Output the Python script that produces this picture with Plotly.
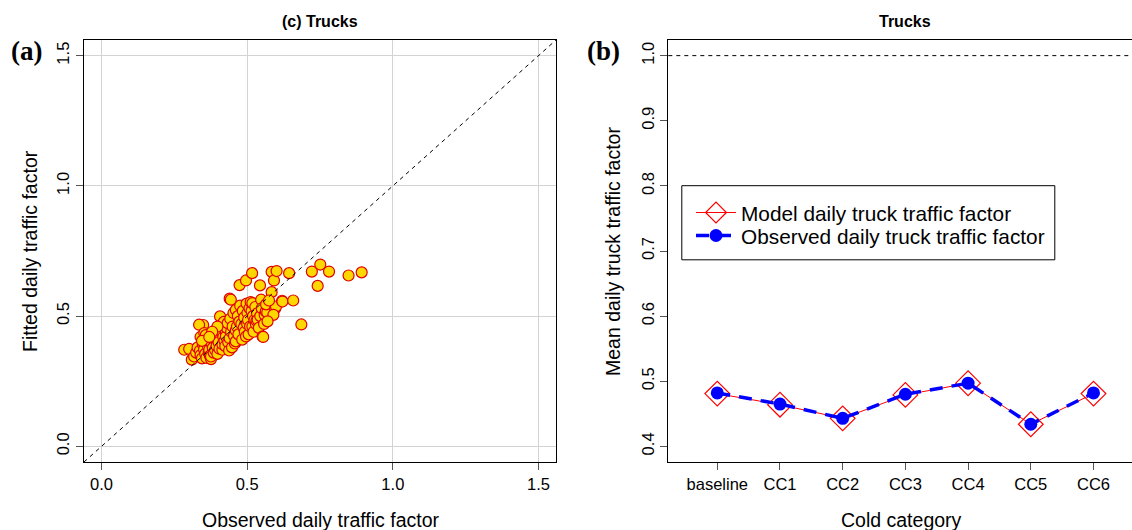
import plotly.graph_objects as go

# ---------------- data ----------------
observed_factor = [
    0.284, 0.301, 0.310, 0.318, 0.325, 0.330, 0.338, 0.340, 0.345, 0.348,
    0.352, 0.356, 0.360, 0.362, 0.365, 0.368, 0.370, 0.372, 0.376, 0.376,
    0.378, 0.380, 0.382, 0.385, 0.340, 0.349, 0.335, 0.353, 0.358, 0.345,
    0.390, 0.393, 0.393, 0.395, 0.398, 0.400, 0.402, 0.405, 0.407, 0.410,
    0.412, 0.415, 0.415, 0.418, 0.420, 0.422, 0.425, 0.427, 0.427, 0.430,
    0.433, 0.435, 0.438, 0.440, 0.442, 0.445, 0.448, 0.450, 0.453, 0.455,
    0.458, 0.461, 0.461, 0.465, 0.440, 0.444, 0.461, 0.398, 0.380, 0.370,
    0.468, 0.470, 0.473, 0.474, 0.476, 0.480, 0.483, 0.485, 0.488, 0.490,
    0.492, 0.496, 0.496, 0.498, 0.500, 0.501, 0.503, 0.505, 0.508, 0.510,
    0.512, 0.515, 0.517, 0.518, 0.518, 0.520, 0.522, 0.525, 0.528, 0.530,
    0.532, 0.534, 0.536, 0.540, 0.544, 0.545, 0.548, 0.550, 0.553, 0.555,
    0.558, 0.560, 0.564, 0.569, 0.565,
    0.584, 0.584, 0.592, 0.596, 0.599, 0.601, 0.620, 0.621, 0.644, 0.658,
    0.686, 0.722, 0.742, 0.751, 0.781, 0.848, 0.893, 0.575, 0.590, 0.570,
]
fitted_factor = [
    0.371, 0.374, 0.333, 0.345, 0.360, 0.380, 0.368, 0.350, 0.338, 0.392,
    0.372, 0.355, 0.340, 0.405, 0.385, 0.362, 0.371, 0.348, 0.335, 0.345,
    0.395, 0.415, 0.378, 0.360, 0.420, 0.466, 0.467, 0.435, 0.427, 0.405,
    0.370, 0.448, 0.409, 0.385, 0.355, 0.430, 0.400, 0.375, 0.499, 0.460,
    0.440, 0.371, 0.392, 0.420, 0.478, 0.405, 0.385, 0.435, 0.422, 0.455,
    0.473, 0.400, 0.368, 0.415, 0.490, 0.440, 0.380, 0.460, 0.512, 0.425,
    0.395, 0.403, 0.445, 0.460, 0.567, 0.563, 0.524, 0.460, 0.440, 0.420,
    0.500, 0.430, 0.479, 0.619, 0.540, 0.470, 0.410, 0.520, 0.455, 0.495,
    0.440, 0.422, 0.637, 0.548, 0.470, 0.512, 0.485, 0.430, 0.530, 0.460,
    0.554, 0.520, 0.665, 0.550, 0.460, 0.500, 0.440, 0.485, 0.535, 0.470,
    0.482, 0.510, 0.486, 0.455, 0.618, 0.500, 0.563, 0.530, 0.422, 0.420,
    0.470, 0.505, 0.518, 0.514, 0.545,
    0.592, 0.670, 0.637, 0.529, 0.537, 0.673, 0.559, 0.556, 0.665, 0.560,
    0.468, 0.671, 0.616, 0.698, 0.671, 0.656, 0.668, 0.560, 0.505, 0.480,
]

cold_categories = ["baseline", "CC1", "CC2", "CC3", "CC4", "CC5", "CC6"]
model_factor = [0.481, 0.464, 0.443, 0.479, 0.497, 0.434, 0.481]
observed_mean_factor = [0.482, 0.465, 0.443, 0.480, 0.497, 0.434, 0.482]

left_ticks = [0.0, 0.5, 1.0, 1.5]
right_yticks = [0.4, 0.5, 0.6, 0.7, 0.8, 0.9, 1.0]

# ---------------- layout helpers ----------------
W, H = 1132, 530
MT, MB = 40, 68
PH = H - MT - MB


def px(x):
    return x / W


def py(y):
    return (H - MB - y) / PH


SANS = "Liberation Sans, Arial, sans-serif"
SERIF = "Liberation Serif, Times New Roman, serif"
TICKFONT = dict(family=SANS, size=16.5, color="black")

fig = go.Figure()

# left scatter
fig.add_trace(go.Scatter(
    x=observed_factor, y=fitted_factor, mode="markers",
    marker=dict(size=11, color="#FFD700", line=dict(color="#E00000", width=1.2)),
    xaxis="x", yaxis="y", showlegend=False, hoverinfo="skip",
))

# right lines
fig.add_trace(go.Scatter(
    x=cold_categories, y=model_factor, mode="lines+markers",
    name="Model daily truck traffic factor",
    line=dict(color="#FF0000", width=1),
    marker=dict(symbol="diamond-open", size=19, color="#FF0000", line=dict(width=1.2, color="#FF0000")),
    xaxis="x2", yaxis="y2", legend="legend",
))
fig.add_trace(go.Scatter(
    x=cold_categories, y=observed_mean_factor, mode="lines+markers",
    name="Observed daily truck traffic factor",
    line=dict(color="#0000FF", width=3.5, dash="13px,9px"),
    marker=dict(symbol="circle", size=13, color="#0000FF"),
    xaxis="x2", yaxis="y2", legend="legend2",
))

axis_common = dict(
    ticks="outside", ticklen=7, tickcolor="#555555", tickwidth=1,
    showline=True, linecolor="black", linewidth=1,
    zeroline=False, tickfont=TICKFONT,
)

legend_common = dict(xanchor="left", yanchor="middle", bgcolor="rgba(0,0,0,0)",
                     borderwidth=0, itemwidth=40,
                     font=dict(family=SANS, size=20.8, color="black"))

fig.update_layout(
    width=W, height=H,
    margin=dict(l=0, r=0, t=MT, b=MB),
    paper_bgcolor="white", plot_bgcolor="white",
    xaxis=dict(domain=[px(84), px(556)], range=[-0.06, 1.56],
               tickvals=left_ticks, tickformat=".1f",
               showgrid=True, gridcolor="#D3D3D3", gridwidth=1,
               mirror=True, anchor="y", **axis_common),
    yaxis=dict(domain=[0, 1], range=[-0.06, 1.56],
               tickvals=left_ticks, tickformat=".1f", tickangle=-90,
               showgrid=True, gridcolor="#D3D3D3", gridwidth=1,
               mirror=True, anchor="x", **axis_common),
    xaxis2=dict(domain=[px(668.3), 1], type="category",
                categoryorder="array", categoryarray=cold_categories,
                range=[-0.781, 6.614], showgrid=False,
                mirror=True, anchor="y2", **axis_common),
    yaxis2=dict(domain=[0, 1], range=[0.376, 1.024],
                tickvals=right_yticks, tickformat=".1f", tickangle=-90,
                showgrid=False, mirror=False, anchor="x2", **axis_common),
    legend=dict(x=px(691), y=py(213), **legend_common),
    legend2=dict(x=px(691), y=py(236), **legend_common),
)

# reference lines
fig.add_shape(type="line", xref="x", yref="y", x0=-0.06, y0=-0.06, x1=1.56, y1=1.56,
              line=dict(color="black", width=1, dash="4px,4px"))
fig.add_shape(type="line", xref="x2 domain", yref="y2", x0=0, x1=1, y0=1.0, y1=1.0,
              line=dict(color="black", width=1, dash="4px,4px"))
# legend box
fig.add_shape(type="rect", xref="paper", yref="paper",
              x0=px(681.8), x1=px(1054.8), y0=py(259.8), y1=py(185.7),
              line=dict(color="black", width=1), fillcolor="rgba(0,0,0,0)")

ann = []
ann.append(dict(text="<b>(c) Trucks</b>", x=px(320), y=py(22), font=dict(family=SANS, size=16, color="black")))
ann.append(dict(text="<b>Trucks</b>", x=px(905), y=py(22), font=dict(family=SANS, size=16, color="black")))
ann.append(dict(text="<b>(a)</b>", x=px(26), y=py(51), font=dict(family=SERIF, size=27, color="black")))
ann.append(dict(text="<b>(b)</b>", x=px(603), y=py(51), font=dict(family=SERIF, size=27, color="black")))
ann.append(dict(text="Observed daily traffic factor", x=px(320), y=py(520), font=dict(family=SANS, size=19.5, color="black")))
ann.append(dict(text="Cold category", x=px(901), y=py(520), font=dict(family=SANS, size=19.5, color="black")))
ann.append(dict(text="Fitted daily traffic factor", x=px(30), y=py(251), textangle=-90, font=dict(family=SANS, size=19.5, color="black")))
ann.append(dict(text="Mean daily truck traffic factor", x=px(613), y=py(252), textangle=-90, font=dict(family=SANS, size=19.5, color="black")))
for a in ann:
    a.update(xref="paper", yref="paper", xanchor="center", yanchor="middle", showarrow=False)
fig.update_layout(annotations=ann)

fig.write_html("out.html")
